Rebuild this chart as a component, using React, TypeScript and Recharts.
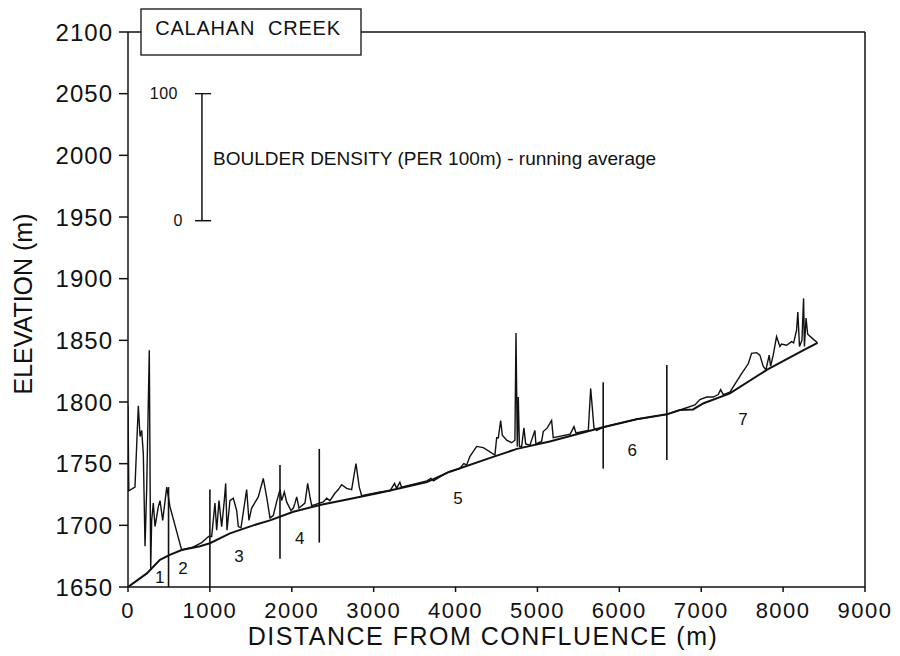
import React from 'react';
import { LineChart, Line, XAxis, YAxis, ReferenceLine, ReferenceDot } from 'recharts';

// Channel bed profile (distance m, elevation m)
const bedDistance = [0, 230, 390, 510, 655, 880, 1000, 1245, 1530, 1734, 2019, 2344, 2751, 3077, 3320, 3650, 3930, 4460, 4750, 5150, 5800, 6210, 6580, 6740, 6900, 7030, 7350, 7800, 8250, 8420];
const bedElevation = [1650, 1661, 1672, 1676, 1680, 1683, 1685.5, 1693.5, 1700, 1704, 1711, 1716.5, 1722, 1726.5, 1730, 1735, 1743.5, 1755.5, 1762, 1768, 1779.5, 1786, 1790, 1793.5, 1794, 1799, 1807, 1826, 1842, 1848];

// Boulder density running average, drawn on top of the bed (elevation + density)
const boulderDistance = [0, 10, 85, 126, 147, 167, 187, 208, 228, 260, 277, 289, 309, 330, 370, 391, 424, 473, 513, 655, 780, 900, 950, 985, 1022, 1062, 1083, 1111, 1144, 1176, 1193, 1209, 1245, 1286, 1327, 1347, 1380, 1449, 1477, 1510, 1591, 1652, 1693, 1734, 1774, 1815, 1856, 1877, 1909, 1937, 1990, 2019, 2039, 2060, 2088, 2161, 2194, 2222, 2243, 2385, 2426, 2466, 2527, 2568, 2609, 2670, 2731, 2784, 2824, 2853, 3077, 3200, 3255, 3280, 3320, 3340, 3650, 3700, 3730, 3900, 4050, 4100, 4136, 4176, 4258, 4339, 4481, 4502, 4522, 4551, 4571, 4624, 4685, 4725, 4738, 4754, 4766, 4780, 4807, 4835, 4856, 4908, 4969, 4981, 5051, 5071, 5120, 5173, 5193, 5400, 5446, 5470, 5621, 5650, 5669, 5690, 5723, 5800, 6210, 6580, 6740, 6923, 6984, 7066, 7147, 7208, 7237, 7269, 7350, 7493, 7574, 7615, 7676, 7716, 7757, 7790, 7830, 7847, 7879, 7920, 7961, 7981, 8042, 8103, 8128, 8164, 8180, 8200, 8230, 8250, 8260, 8280, 8300, 8350, 8420];
const boulderTop = [1797, 1728, 1731, 1797, 1772, 1777, 1758, 1683, 1729, 1842, 1664, 1704, 1718, 1699, 1715, 1720, 1704, 1731, 1715, 1680, 1682, 1686, 1689, 1691, 1691, 1718, 1696, 1720, 1699, 1720, 1734, 1696, 1720, 1722, 1712, 1699, 1698, 1729, 1704, 1714, 1723, 1738, 1723, 1706, 1708, 1719, 1729, 1720, 1727, 1719, 1712, 1714, 1718, 1723, 1714, 1718, 1734, 1723, 1716, 1719, 1722, 1720, 1726, 1729, 1733, 1730, 1729, 1750, 1731, 1724, 1727, 1728, 1734, 1730, 1735, 1731, 1736, 1738, 1736, 1743, 1746, 1750, 1749, 1756, 1764, 1763, 1757, 1771, 1771, 1785, 1773, 1769, 1767, 1769, 1856, 1764, 1804, 1764, 1764, 1779, 1766, 1765, 1777, 1766, 1768, 1776, 1779, 1785, 1771, 1774, 1780, 1775, 1777, 1811, 1796, 1779, 1777, 1779.5, 1786, 1790, 1793.5, 1797.6, 1802, 1804, 1804, 1806, 1810, 1806, 1808, 1823, 1831, 1839.5, 1840, 1838, 1829, 1826, 1838, 1829, 1838, 1853, 1845, 1847, 1846, 1849, 1848, 1858, 1873, 1845, 1850, 1884, 1845, 1868, 1855, 1852, 1848];

// Reach boundaries
const boundaryDistance = [495, 1000, 1856, 2336, 5803, 6580];
const boundaryLow = [1650, 1650, 1673, 1686, 1746, 1753];
const boundaryHigh = [1731, 1729, 1749, 1762, 1816, 1830];

// Reach labels
const reachNames = ['1', '2', '3', '4', '5', '6', '7'];
const reachLabelDistance = [391, 675, 1359, 2100, 4033, 6162, 7513];
const reachLabelElevation = [1658, 1665, 1674.5, 1689, 1722, 1760.5, 1786];

const xTicks = [0, 1000, 2000, 3000, 4000, 5000, 6000, 7000, 8000, 9000];
const yTicks = [1650, 1700, 1750, 1800, 1850, 1900, 1950, 2000, 2050, 2100];

// Density scale bar (0..100 boulders per 100 m)
const scaleBarX = 903;
const scaleBarBottom = 1947;
const scaleBarTop = 2050;
const scaleCapLeft = 818;
const scaleCapRight = 1015;

const FONT = '"Liberation Sans", Arial, Helvetica, sans-serif';

const bedData = bedDistance.map((x, i) => ({ x, y: bedElevation[i] }));
const boulderData = boulderDistance.map((x, i) => ({ x, y: boulderTop[i] }));

const makeText = (label: string, dx: number, size: number, anchor: string) => (props: any) => (
  <text
    x={props.cx + dx}
    y={props.cy}
    textAnchor={anchor}
    dominantBaseline="central"
    fontFamily={FONT}
    fontSize={size}
    letterSpacing={0.5}
    fill="#111"
  >
    {label}
  </text>
);

export default function App() {
  return (
    <div style={{ position: 'absolute', left: 0, top: 0, width: 900, height: 656, background: '#fff' }}>
      <LineChart
        width={900}
        height={656}
        data={bedData}
        margin={{ top: 32, right: 35, bottom: 29, left: 60 }}
      >
        <XAxis
          type="number"
          dataKey="x"
          domain={[0, 9000]}
          ticks={xTicks}
          height={40}
          allowDataOverflow
          stroke="#111"
          strokeWidth={1.5}
          tickSize={5}
          tickMargin={10}
          tick={{ fill: '#111', fontSize: 22, fontFamily: FONT, letterSpacing: 1.5 }}
        />
        <YAxis
          type="number"
          domain={[1650, 2100]}
          ticks={yTicks}
          width={68}
          allowDataOverflow
          stroke="#111"
          strokeWidth={1.5}
          tickSize={9}
          tickMargin={6}
          tick={{ fill: '#111', fontSize: 24, fontFamily: FONT, letterSpacing: 1 }}
        />
        <ReferenceLine y={2100} stroke="#111" strokeWidth={1.3} ifOverflow="visible" />
        <ReferenceLine x={9000} stroke="#111" strokeWidth={1.5} ifOverflow="visible" />
        {boundaryDistance.map((x, i) => (
          <ReferenceLine
            key={'b' + i}
            segment={[{ x, y: boundaryLow[i] }, { x, y: boundaryHigh[i] }]}
            stroke="#111"
            strokeWidth={1.6}
          />
        ))}
        <ReferenceLine segment={[{ x: scaleBarX, y: scaleBarBottom }, { x: scaleBarX, y: scaleBarTop }]} stroke="#111" strokeWidth={1.5} />
        <ReferenceLine segment={[{ x: scaleCapLeft, y: scaleBarTop }, { x: scaleCapRight, y: scaleBarTop }]} stroke="#111" strokeWidth={1.3} />
        <ReferenceLine segment={[{ x: scaleCapLeft, y: scaleBarBottom }, { x: scaleCapRight, y: scaleBarBottom }]} stroke="#111" strokeWidth={1.5} />
        <ReferenceDot x={scaleBarX} y={scaleBarTop} r={0} shape={makeText('100', -24, 16, 'end')} />
        <ReferenceDot x={scaleBarX} y={scaleBarBottom} r={0} shape={makeText('0', -19, 16, 'end')} />
        <Line
          data={boulderData}
          dataKey="y"
          type="linear"
          stroke="#111"
          strokeWidth={1.4}
          dot={false}
          isAnimationActive={false}
        />
        <Line
          data={bedData}
          dataKey="y"
          type="linear"
          stroke="#111"
          strokeWidth={2}
          dot={false}
          isAnimationActive={false}
        />
        {reachNames.map((n, i) => (
          <ReferenceDot
            key={'r' + i}
            x={reachLabelDistance[i]}
            y={reachLabelElevation[i]}
            r={0}
            shape={makeText(n, 0, 17, 'middle')}
          />
        ))}
      </LineChart>
      <svg
        width={900}
        height={656}
        style={{ position: 'absolute', left: 0, top: 0, pointerEvents: 'none' }}
      >
        <rect x={141} y={9} width={220} height={46} fill="#fff" stroke="#111" strokeWidth={1.3} />
        <text x={248} y={35} textAnchor="middle" fontFamily={FONT} fontSize={20} letterSpacing={0.8} fill="#111" style={{ whiteSpace: 'pre' }}>
          {'CALAHAN  CREEK'}
        </text>
        <text x={213} y={165} fontFamily={FONT} fontSize={19} fill="#111">
          BOULDER DENSITY (PER 100m) - running average
        </text>
        <text
          x={0}
          y={0}
          transform="translate(32,304) rotate(-90)"
          textAnchor="middle"
          fontFamily={FONT}
          fontSize={25}
          fill="#111"
        >
          ELEVATION (m)
        </text>
        <text x={483} y={645} textAnchor="middle" fontFamily={FONT} fontSize={25} letterSpacing={1.5} fill="#111">
          DISTANCE FROM CONFLUENCE (m)
        </text>
      </svg>
    </div>
  );
}
